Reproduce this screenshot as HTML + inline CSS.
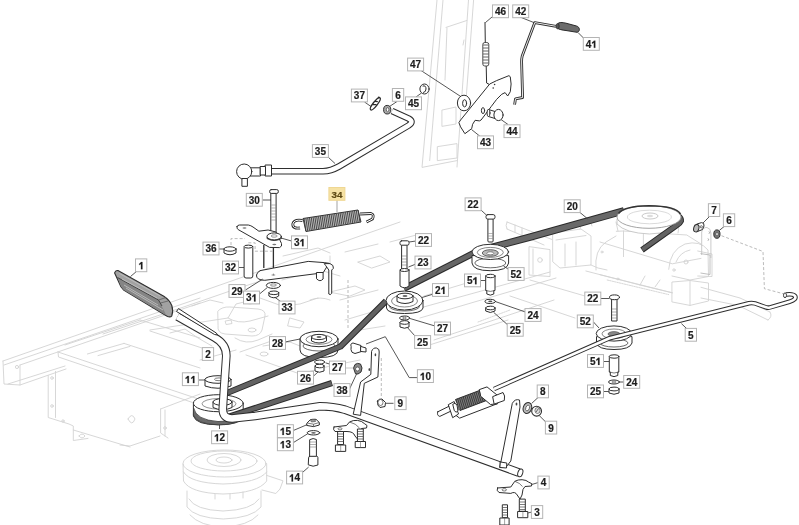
<!DOCTYPE html>
<html><head><meta charset="utf-8"><style>
html,body{margin:0;padding:0;background:#fff;}
svg{display:block;will-change:transform;filter:blur(0.4px);}
.lb{fill:#fff;stroke:#b4b4b4;stroke-width:1;}
.lt{font-family:"Liberation Sans",sans-serif;font-weight:bold;font-size:10px;fill:#1e1e1e;stroke:#1e1e1e;stroke-width:0.2;text-anchor:middle;}
.ht{font-family:"Liberation Sans",sans-serif;font-weight:bold;font-size:9.8px;fill:#5e4a14;stroke:#5e4a14;stroke-width:0.2;text-anchor:middle;}
.f{fill:none;stroke:#d2d2d2;stroke-width:0.9;stroke-linejoin:round;stroke-linecap:round;}
.fw{fill:#fff;stroke:#d2d2d2;stroke-width:0.9;stroke-linejoin:round;}
.p{fill:#fff;stroke:#2e2e2e;stroke-width:1;stroke-linejoin:round;stroke-linecap:round;}
.pn{fill:none;stroke:#2e2e2e;stroke-width:1;stroke-linejoin:round;stroke-linecap:round;}
.ld{fill:none;stroke:#444;stroke-width:0.9;}
.dash{fill:none;stroke:#aaa;stroke-width:0.8;stroke-dasharray:3 2;}
</style></head><body>
<svg width="799" height="525" viewBox="0 0 799 525">
<rect width="799" height="525" fill="#fff"/>
<g id="faint"><!-- ===== left frame ===== -->
<g class="f">
<path d="M3,361 L400,222"/>
<path d="M4,365 L200,298"/>
<path d="M20,365 L200,303"/>
<path d="M3,361 L4,384 L20,385 L66,369"/>
<path d="M8,384 L65,366"/>
<path d="M20,365 L20,385"/>
<circle cx="17" cy="367" r="1.6"/>
<path d="M58,352 L200,399.5"/>
<path d="M58,352 L58.5,357 L200,405"/>
<path d="M48.2,375.6 L48.2,417.5 L69,424 L73.3,426 L73.3,440.5 L88,438.4"/>
<path d="M55.5,371.4 L55.5,417.5"/>
<path d="M73.3,430 L130,447"/>
<circle cx="52" cy="378" r="1.3"/><circle cx="52" cy="406" r="1.3"/><circle cx="63" cy="421" r="1.2"/>
<path d="M79,436 q3,-4 6,0 q-3,4 -6,0"/>
<path d="M65,345 L140,320 M87.4,354 L124,343.4 M98,355.6 L130,346.4"/>
<path d="M140,320 L200,338 M124,343.4 L200,368"/>
<path d="M160.6,409 L160.6,433 L168,438 M165,410 L165,436"/>
<path d="M160.6,409 L200,394"/>
<path d="M128,419 q4,-7 7,0 q-3,8 -7,0"/>
<circle cx="165" cy="428" r="1.3"/>
<path d="M120,445 L130,446 L160,436"/>
<!-- deck plate outline center -->
<path d="M103,334 L172,311 L233,290 L300,268"/>
<path d="M150,330 L228,318 L236,304 L260,298 L282,306 L300,304 L318,298"/>
<path d="M228,318 Q238,324 250,321 L268,316"/>
<path d="M235,338 Q246,345 258,340 L272,334"/>
<path d="M200,360 L236,350 M240,352 L280,338"/>
<path d="M150,331 L205,349"/>
<path d="M246,355 L300,374"/>
<path d="M192,306 L210,300 L223,303"/>
<ellipse cx="252" cy="330" rx="4" ry="2"/>
<ellipse cx="250" cy="302" rx="4" ry="2"/>
<ellipse cx="264" cy="354" rx="4" ry="2"/>
<path d="M290,318 L304,322 L300,328 L288,326 Z"/>
<path d="M330,292 L355,286 L365,290 L350,296 Z"/>
<path d="M310,300 Q320,296 330,300"/>
<path d="M282,280 L320,270 L340,276"/>
<path d="M340,300 L378,290"/>
<path d="M345,320 L382,309"/>
<path d="M360,330 L385,326"/>
<path d="M300,374 L330,366"/>
<path d="M330,366 L360,360"/>
<path d="M283,256 L318,248 L330,253"/>
<path d="M345,252 L378,244"/>
<path d="M358,262 L380,256 L390,262 L372,268 Z"/>
<path d="M330,256 L330,270"/>
<path d="M390,242 L420,234"/>
<path d="M218,311 Q222,306.5 230,307 L258,309 Q266,310 265,316 L262,330 Q260,336 252,336 L225,334 Q217,333 218,326 Z"/>
<path d="M225.5,321 L231,320 L232,323.5 L226.5,324.5 Z"/>
<path d="M170,333 L185,329 L198,338 L212,346"/>
<path d="M263,346 L290,342 L305,348"/>
<!-- dotted vertical near lever -->
</g>
<path class="dash" d="M381.3,358 L381.3,398" stroke="#bbb" stroke-dasharray="2 2"/>
<path class="dash" d="M348,280 L348,330" stroke="#ccc" stroke-dasharray="2 2"/>
<!-- ===== vertical panel top ===== -->
<g class="f" stroke="#d0d0d0">
<path d="M437,0 L422,167.4 L457,160.6"/>
<path d="M443,0 L429.7,160.6"/>
<path d="M468.5,0 L457,167"/>
<path d="M473.6,0 L466,100"/>
<path d="M446,27.4 L466.8,20.5"/>
<path d="M447,28 L445,80"/>
<path d="M442.3,110 L456,107 L456,124 L442.3,126.3 Z"/>
<path d="M437.7,146.6 L457,143.6 L457,158 L437.7,160.6 Z"/>
<path d="M464,40 L463,45"/>
</g>
<!-- ===== right frame / transmission ===== -->
<g class="f" stroke="#c2c2c2">
<path d="M507,222 L552,239.5 M507,229 L544,245 M507,222 Q505,225.5 507,229"/>
<path d="M515,225 L515,232 M522,228 L522,235"/>
<path d="M529,247 L529,275 L550,276.5 L550,250 Z M533,249 L533,274"/>
<circle cx="540" cy="260" r="2.3"/>
<path d="M553,233 L581,229 L591,236 L591,265 L560,268 L553,262 Z M556,240 L586,235.5 M565,244 L565,266 M576,242 L576,265"/>
<path d="M580,229 L582,222 L590,220 L592,226"/>
<path d="M585.9,271 L640,285 L672.3,292.8"/>
<path d="M607.2,280 L668.7,294.6" stroke-dasharray="1.5 1"/>
<path d="M591,265 L598,268 L607,270"/>
<path d="M600,242 L672.3,263.8 L701,258.4"/>
<path d="M616.3,231.3 L623.5,231 L686.8,235 L701,244"/>
<path d="M623.5,231 L623.5,256.6 M643.4,233 L643.4,251"/>
<path d="M596,270 Q594,250 606,242 L616,236"/>
<path d="M600,274.7 L672.3,292.8"/>
<path d="M668.7,269.3 Q670,250 685,244 Q700,240 708,250 L708.5,276.5 L690,280 L672,276"/>
<path d="M676,262 Q680,252 690,250"/>
<circle cx="686" cy="262" r="2"/>
<circle cx="674" cy="270" r="1.2"/>
<path d="M672.3,282 L690,280.5 L708.5,283 L708.5,301 L690,305.4 L672.3,302 Z M690,280.5 L690,305.4"/>
<path d="M697.7,251 L712,254 L712,276.5 L697.7,276"/>
<path d="M701,287.3 L740,298 L770,312 M701,298 L738,305.4 L768,320 M770,312 Q773,316.5 768,320"/>
<path d="M616,222 L618,231 M679.6,222 L678,233"/>
<path d="M640,285 L645,276 M655,287 L660,280"/>
<circle cx="618" cy="279" r="1"/><circle cx="602" cy="252" r="1"/>
<path d="M530,280 L585,296 M510,296 L575,318"/>
<path d="M420,308 L550,272 M420,318 L556,278 M434,340 L554,300 M420,348 L508,320"/>
<path d="M478,322 L510,310" stroke-dasharray="1.5 1"/>
<path d="M424,296 L470,282"/>
</g>
<path d="M701.7,255 L701.7,232 Q703,227 707,227.5 Q710.9,228.5 710.9,233 L710.9,258" fill="none" stroke="#c4c4c4" stroke-width="0.9"/>
<path d="M709,231.5 q1.2,1 0,2.2 M708,238.5 q1.2,1 0,2.2" stroke="#888" stroke-width="0.8" fill="none"/>
<path d="M700.5,253.6 L710,255 L710,274.5 L700.5,273" fill="none" stroke="#b8b8b8" stroke-width="0.9"/>
<path class="dash" d="M721.5,235.7 L763,251.5 L764.4,288.7 L785.8,294.4" stroke="#b0b0b0" stroke-dasharray="4 2 1 2"/>
<!-- ===== clutch bottom ===== -->
<g class="f" stroke="#c8c8c8" transform="translate(0,2)">
<ellipse cx="224.5" cy="461.5" rx="41.5" ry="13.5"/>
<ellipse cx="224" cy="459" rx="33" ry="10"/>
<ellipse cx="224" cy="458" rx="17" ry="6.5"/>
<ellipse cx="224" cy="458" rx="8" ry="3"/>
<path d="M183,462 L183.5,479 Q190,491 223,492 Q258,491 266.7,479 L266.7,462"/>
<path d="M183.5,470 Q190,481 223,482 Q258,481 266.7,470"/>
<path d="M266.7,473.4 L283,478.8 L280,487 L275.8,491.5 L262,488"/>
<path d="M187,489 L187,505 Q195,516 223.3,517 Q252,516 261,505 L261,489"/>
<path d="M189,497 Q195,508 223,509 Q252,508 259,497"/>
<path d="M190,513 Q200,524 223,525 Q248,524 258,513"/>
<path d="M215,492 L215,497 M230,492 L230,497 M243,490 L243,496"/>
</g>
</g>
<g id="parts"><!-- ===== top: lever 42/41, spring 46, plate 43 ===== -->
<path class="ld" d="M492,17 L485.5,22.5"/>
<path d="M485,22.5 L485.3,42.5 M486.2,66 L486.6,83 L489.5,84.5" class="pn" stroke-width="0.9"/>
<rect x="482.8" y="42.5" width="6" height="23.5" rx="2" fill="#fff" stroke="#3a3a3a" stroke-width="0.9"/>
<path d="M483,45 h5.6 M483,48 h5.6 M483,51 h5.6 M483,54 h5.6 M483,57 h5.6 M483,60 h5.6 M483,63 h5.6" stroke="#555" stroke-width="0.9"/>
<path class="ld" d="M520,17 L534.5,22.8"/>
<path d="M556,26.3 L534.8,22.6 L522.2,56 Q521.5,59 521.6,62 L522.6,97.5 L515.5,98.8 L514.6,104.6" fill="none" stroke="#2e2e2e" stroke-width="2.8" stroke-linejoin="round"/>
<path d="M556,26.3 L534.8,22.6 L522.2,56 Q521.5,59 521.6,62 L522.6,97.5 L515.5,98.8 L514.6,104.6" fill="none" stroke="#fff" stroke-width="0.9" stroke-linejoin="round"/>
<path d="M557.5,24 C559,22 562,22.3 566,23.2 L576.5,26 C580,27 580.5,31.5 577,32.3 L566,30.5 C562,30 559,29.5 557.5,28.2 Z" fill="#6c6c6c" stroke="#2a2a2a" stroke-width="1"/>
<ellipse cx="557.6" cy="26.2" rx="1.6" ry="2.6" fill="#555" stroke="#2a2a2a" stroke-width="0.8"/>
<path class="ld" d="M578,32.5 L585.5,40"/>
<path class="ld" d="M421,70.5 L461.5,97"/>
<ellipse cx="464" cy="103" rx="6.6" ry="7.8" class="p"/>
<ellipse cx="464.6" cy="103.3" rx="2" ry="3.6" class="p"/>
<path class="p" d="M508.6,75.8 L496.6,80.6 L489.7,84 L460.6,120 L458.9,122.6 L460.6,126.9 L464.9,133.7 L471.7,128.6 L472.6,124.3 L475.1,120.3 L479.4,120.9 L481.1,120 L491.4,106.3 L496.6,99.4 L501.7,94.3 L505.1,92.6 L507.7,96 L510.3,91.7 L511.1,84 L510.3,77.1 Z"/>
<ellipse cx="483" cy="110.6" rx="1.6" ry="3" class="p"/>
<circle cx="494.6" cy="84.5" r="0.8" fill="#333"/><circle cx="493.2" cy="88" r="0.8" fill="#333"/>
<path class="p" d="M488.5,109.5 L495,111.5 L495,118.5 L488.5,116.5 Z"/>
<ellipse cx="488.5" cy="113" rx="1.5" ry="3.5" class="p"/>
<ellipse cx="498.5" cy="115" rx="4.6" ry="5.6" class="p"/>
<path class="ld" d="M508,124.5 L501,119.5"/>
<path class="ld" d="M481.5,137.5 L471.5,129.5"/>
<!-- cap 45, washer 6, clip 37 -->
<path class="ld" d="M416,97 L421.5,93"/>
<ellipse cx="424.5" cy="89" rx="4.6" ry="5" class="p"/>
<path d="M423,86 q3,-1 3,3 q0,3 -2.5,3.5" class="pn" stroke-width="0.8"/>
<path class="ld" d="M397,101.5 L389.5,106.5"/>
<ellipse cx="387.2" cy="109.7" rx="3.6" ry="4.3" fill="#a8a8a8" stroke="#2e2e2e" stroke-width="1"/>
<ellipse cx="387.6" cy="109.7" rx="1.3" ry="2" fill="#fff" stroke="#444" stroke-width="0.7"/>
<path class="ld" d="M364.5,102 L371,106.5"/>
<g transform="rotate(-52 375.3 103.8)"><ellipse cx="375.3" cy="103.8" rx="7.6" ry="2.1" fill="#fff" stroke="#2a2a2a" stroke-width="1.3"/>
<path d="M373,102.2 L375.5,105.3 M377,102 L378.5,104.5" stroke="#2a2a2a" stroke-width="1.2"/></g>
<circle cx="378.8" cy="97.6" r="1" fill="#2a2a2a"/>
<!-- rod 35 -->
<path id="r35" d="M271,171.3 L323,171.3 Q331,171 339,166.5 L408.5,125.5 Q414.5,121.5 408.5,118.5 L392,111" fill="none" stroke="#2e2e2e" stroke-width="6.6" stroke-linejoin="round"/>
<path d="M271,171.3 L323,171.3 Q331,171 339,166.5 L408.5,125.5 Q414.5,121.5 408.5,118.5 L392,111" fill="none" stroke="#fff" stroke-width="4.5" stroke-linejoin="round"/>
<path class="ld" d="M328,157 L335,163.5"/>
<rect x="265.5" y="165" width="6" height="11" class="p"/>
<path class="p" d="M250.5,167.8 L260.5,167.8 L260.5,176 L250.5,176 Z"/>
<rect x="260.5" y="166.5" width="5" height="8.5" class="p"/>
<circle cx="244.2" cy="171.6" r="7.6" class="p"/>
<path class="p" d="M242.3,178.5 L247.4,178.5 L247.4,186.3 L242.3,186.3 Z"/>
<!-- bolt 30 + upper bracket -->
<path class="ld" d="M262.5,200 L271,200"/>
<path d="M263.8,245 L263.8,268 M273.4,247 L273.4,268" stroke="#2e2e2e" stroke-width="1.3" fill="none"/>
<path class="dash" d="M248.3,242.8 L255.1,242.8 L255.1,251.2 L272.6,251.2" stroke="#aaa" stroke-dasharray="2 1.5"/>
<rect x="271.2" y="193" width="4.9" height="40" class="p"/>
<path d="M271.2,205 h4.9 M271.2,208 h4.9 M271.2,211 h4.9 M271.2,214 h4.9 M271.2,217 h4.9 M271.2,220 h4.9" stroke="#888" stroke-width="0.6"/>
<rect x="269.7" y="189.6" width="8.6" height="3.8" rx="1.5" class="p"/>
<path class="p" d="M237,226.5 Q237.5,225 239.5,225 L248.3,225 Q251,225.5 253,227 L258.9,231.2 L268.1,230 L276,232 L281.5,243.5 Q282.5,246.5 279.5,247.6 L269.6,247.4 L238.2,229.6 Q236.5,228.5 237,226.5 Z"/>
<ellipse cx="244.5" cy="228" rx="2" ry="0.8" fill="#777"/>
<ellipse cx="274.3" cy="244.5" rx="2" ry="0.8" fill="#777"/>
<path class="ld" d="M291.5,241 L281,238"/>
<path d="M267,237 L267,238.6 Q274.2,242.5 281.4,238.6 L281.4,237 Z" fill="#555" stroke="#2e2e2e" stroke-width="0.8"/>
<ellipse cx="274.2" cy="236.4" rx="7.2" ry="3.5" class="p"/>
<ellipse cx="274.2" cy="236" rx="3" ry="1.3" fill="#eee" stroke="#666" stroke-width="0.6"/>
<!-- cap 36, pin 32 -->
<path class="dash" d="M231,245 L231,238.6 L245,238.6" stroke="#aaa" stroke-dasharray="2 1.5"/>
<path class="ld" d="M219,249 L225,249"/>
<path class="p" d="M224,249 L224,253 Q230,256.5 236,253 L236,249 Z"/>
<ellipse cx="230" cy="249" rx="6" ry="2.2" class="p"/>
<path class="ld" d="M238.5,267.5 L244,267.5"/>
<rect x="244.1" y="245.5" width="8.7" height="32.5" rx="2" class="p"/>
<ellipse cx="248.45" cy="246.6" rx="4.35" ry="1.5" class="p"/>
<!-- lower bracket 29 -->
<path class="p" d="M260.3,270.6 L308.2,261.4 L324.2,262.6 L329,263.3 L323.1,272.8 L264.8,280.3 Q256,280 256.5,275 Q257,272 260.3,270.6 Z"/>
<path class="p" d="M324.6,263.6 L330,263.6 Q334,265 333.4,268.3 L331.7,270 L331.7,293.4 Q330.3,295.5 328.8,294 L328.8,270 L326,266 Z"/>
<path class="p" d="M316.8,272.5 L323.1,272.5 L323.1,279 Q320,282.5 316.8,279 Z"/>
<path d="M273.4,273.6 L273.4,275.5 M271.6,275 L275.2,275" stroke="#666" stroke-width="0.7"/>
<path class="ld" d="M245.5,290 L262.6,279.1"/>
<path class="ld" d="M259.5,294 L267.1,287.7"/>
<ellipse cx="273.4" cy="285.4" rx="7.1" ry="3" class="p"/>
<ellipse cx="273.4" cy="285" rx="3" ry="1.2" fill="#eee" stroke="#555" stroke-width="0.6"/>
<path class="p" d="M268.9,292.8 L268.9,296 Q273.8,299.5 278.7,296 L278.7,292.8 Z"/>
<ellipse cx="273.8" cy="292.8" rx="4.9" ry="1.8" class="p"/>
<path class="ld" d="M282,302.5 L275,297.4"/>
<!-- spring 34 -->
<path d="M337,200 L337,212" stroke="#999" stroke-width="0.9"/>
<path d="M303,218.5 L358,210 L361,222 L306,231.5 Z" fill="#c4c4c4" stroke="#333" stroke-width="1"/>
<path d="M304.10,218.60 L305.90,231.20 M305.90,218.32 L307.70,230.89 M307.70,218.04 L309.50,230.57 M309.50,217.76 L311.30,230.26 M311.30,217.48 L313.10,229.95 M313.10,217.20 L314.90,229.63 M314.90,216.92 L316.70,229.32 M316.70,216.64 L318.50,229.01 M318.50,216.36 L320.30,228.69 M320.30,216.08 L322.10,228.38 M322.10,215.80 L323.90,228.07 M323.90,215.52 L325.70,227.75 M325.70,215.24 L327.50,227.44 M327.50,214.96 L329.30,227.13 M329.30,214.68 L331.10,226.81 M331.10,214.40 L332.90,226.50 M332.90,214.12 L334.70,226.19 M334.70,213.84 L336.50,225.87 M336.50,213.56 L338.30,225.56 M338.30,213.28 L340.10,225.25 M340.10,213.00 L341.90,224.93 M341.90,212.72 L343.70,224.62 M343.70,212.44 L345.50,224.31 M345.50,212.16 L347.30,223.99 M347.30,211.88 L349.10,223.68 M349.10,211.60 L350.90,223.37 M350.90,211.32 L352.70,223.05 M352.70,211.04 L354.50,222.74 M354.50,210.76 L356.30,222.43 M356.30,210.48 L358.10,222.11 M358.10,210.20 L359.90,221.80" stroke="#3a3a3a" stroke-width="0.9" fill="none"/>
<path d="M302.5,220.5 Q294,219 292.8,224 Q292.5,229 300,228" fill="none" stroke="#2e2e2e" stroke-width="2.8"/>
<path d="M302.5,220.5 Q294,219 292.8,224 Q292.5,229 300,228" fill="none" stroke="#fff" stroke-width="1"/>
<path d="M360,214 L371,213.5 Q374.5,214.5 372.5,219 L366.5,222" fill="none" stroke="#2e2e2e" stroke-width="2.8"/>
<path d="M360,214 L371,213.5 Q374.5,214.5 372.5,219 L366.5,222" fill="none" stroke="#fff" stroke-width="1"/>
<!-- pedal 1 -->
<path class="ld" d="M137,271 L130.5,276.5"/>
<path d="M114.6,272.9 Q115.5,270 118,270.6 L163.8,296.3 Q169.5,300 171.8,305.5 Q173.5,311 171.8,315.8 Q170.5,317.5 167.5,316.5 L123.7,290 L120.9,286.6 Z" fill="#a2a2a2" stroke="#2e2e2e" stroke-width="1.1"/>
<path d="M117.5,277.5 L158.5,300 L166.5,315.5 L123.7,290 L120.9,286.6 Z" fill="#858585"/>
<path d="M117.5,277.5 L158.5,300 L162,306" stroke="#3a3a3a" stroke-width="0.9" fill="none"/>
<path d="M119.5,273.5 L160,295.8 M122,279 L157,298 M124,285 L158,305 M126,288 L163,310" stroke="#c4c4c4" stroke-width="0.8" fill="none"/>
<path d="M158.5,300 L166,297.5 M160.5,303 L168,301" stroke="#555" stroke-width="0.7" fill="none"/>
<!-- ===== pulley 28 ===== -->
<path class="ld" d="M285,342 L300,339"/>
<path class="p" d="M300,339 L300,350 Q300,357.5 319,357.5 Q338,357.5 338,350 L338,339 Z"/>
<ellipse cx="319" cy="346" rx="16" ry="5" fill="none" stroke="#444" stroke-width="0.8"/>
<ellipse cx="319" cy="339" rx="19" ry="7.7" class="p"/>
<ellipse cx="319" cy="339.5" rx="13" ry="4.8" fill="none" stroke="#555" stroke-width="0.7"/>
<path class="p" d="M311.5,337 L311.5,341 Q319,345 326.5,341 L326.5,337 Z"/>
<ellipse cx="319" cy="337" rx="7.5" ry="2.6" class="p"/>
<ellipse cx="319" cy="337" rx="2.5" ry="1" fill="#666"/>
<!-- pulley 12 -->
<path class="ld" d="M219.5,429 L219.5,423.5"/>
<path d="M193.4,403.2 L193.4,416 Q196,424.8 218.3,424.8 Q240,424.8 243.2,416 L243.2,403.2 Z" fill="#fff" stroke="#2e2e2e" stroke-width="1"/>
<path d="M193.6,408 Q196,420 218,421.5 Q232,421.5 240,417 L240,421 Q232,425 218,424.8 Q196,424 193.4,415 Z" fill="#6a6a6a" stroke="#3a3a3a" stroke-width="0.8"/>
<ellipse cx="218.3" cy="403.2" rx="24.9" ry="8.5" class="p"/>
<ellipse cx="219" cy="403.8" rx="17" ry="5.3" fill="none" stroke="#666" stroke-width="0.7"/>
<path class="p" d="M213,402 L213,407.5 Q222.5,412 232,407.5 L232,402 Z"/>
<ellipse cx="222.5" cy="402" rx="9.5" ry="3.4" class="p"/>
<ellipse cx="222.5" cy="402" rx="3" ry="1.2" fill="#555"/>
<!-- bushing 11 -->
<path class="ld" d="M198.5,380 L205,380"/>
<path class="p" d="M205,379.5 L205,386 Q218,390.5 231,386 L231,379.5 Z"/>
<ellipse cx="218" cy="379.5" rx="13" ry="3.8" class="p"/>
<ellipse cx="219" cy="379.3" rx="4.5" ry="1.4" fill="none" stroke="#444" stroke-width="0.7"/>
<!-- ===== belts ===== -->
<g fill="none" stroke-linejoin="round">
<path id="b1" d="M227,393 L340.5,346.5 L386,301" stroke="#2a2a2a" stroke-width="6.2"/>
<path d="M227,393 L340.5,346.5 L386,301" stroke="#626262" stroke-width="4.2"/>
<path d="M404,288.5 L474,253" stroke="#2a2a2a" stroke-width="6.5"/>
<path d="M404,288.5 L474,253" stroke="#666" stroke-width="4.5"/>
<path d="M490,247.8 L530,237.2 L624,210.8" stroke="#2a2a2a" stroke-width="7.4"/>
<path d="M490,247.8 L530,237.2 L624,210.8" stroke="#686868" stroke-width="5.4"/>
<path d="M229.5,416.5 L332,383" stroke="#2a2a2a" stroke-width="6.2" stroke-linecap="butt"/>
<path d="M229.5,416.5 L331.5,383.2" stroke="#626262" stroke-width="4.2" stroke-linecap="butt"/>
</g>
<!-- pedal arm 2 + cross rod -->
<path id="arm" d="M177.5,316.5 L214.5,337.5 Q226.5,344 226.3,356 L224.1,388 L222.8,408.6 Q222.5,418.5 232,418.5 L255,416 L290,410.7 L320,406.3 Q333,406.3 345,409.7 L519,472.6" fill="none" stroke="#2e2e2e" stroke-width="8.6" stroke-linejoin="round"/>
<path d="M177.5,316.5 L214.5,337.5 Q226.5,344 226.3,356 L224.1,388 L222.8,408.6 Q222.5,418.5 232,418.5 L255,416 L290,410.7 L320,406.3 Q333,406.3 345,409.7 L519,472.6" fill="none" stroke="#fff" stroke-width="6.6" stroke-linejoin="round"/>
<ellipse cx="520.3" cy="472.9" rx="2.4" ry="4" transform="rotate(18 520.3 472.9)" fill="#fff" stroke="#2e2e2e" stroke-width="1"/>
<path d="M176.5,311.5 L178.5,308.6 L216.4,333.1 L217.5,335 L214.5,334.5 Z" fill="#fff" stroke="#2e2e2e" stroke-width="1" stroke-linejoin="round"/>

<!-- ===== pulley 21 / bolt 22 / spacer 23 ===== -->
<path class="ld" d="M416,241 L409,242"/>
<path class="ld" d="M416,264 L408.5,267"/>
<rect x="402" y="244" width="5" height="26" class="p"/>
<path d="M402,256 h5 M402,259 h5 M402,262 h5 M402,265 h5" stroke="#777" stroke-width="0.6"/>
<rect x="400" y="240.8" width="9" height="4.4" rx="1.6" class="p"/>
<path class="p" d="M400,270 L400,286 Q404.5,289.5 409,286 L409,270 Z"/>
<ellipse cx="404.5" cy="270" rx="4.5" ry="1.5" class="p"/>
<path class="p" d="M386.5,301 L386.5,308 Q387,313.5 404.5,313.5 Q422,313.5 423,308 L423,301 Z"/>
<ellipse cx="404.5" cy="306.5" rx="15" ry="4.5" fill="none" stroke="#444" stroke-width="0.8"/>
<ellipse cx="404.5" cy="300.5" rx="18.5" ry="9.5" class="p"/>
<ellipse cx="404.5" cy="301" rx="13" ry="6" fill="none" stroke="#555" stroke-width="0.7"/>
<path class="p" d="M397,296 L397,301.5 Q405,305.5 413,301.5 L413,296 Z"/>
<ellipse cx="405" cy="296" rx="8" ry="2.8" class="p"/>
<ellipse cx="405" cy="296" rx="2.5" ry="1" fill="#666"/>
<path class="ld" d="M433.5,294 L422,297.5"/>
<ellipse cx="404.5" cy="318" rx="5" ry="2" class="p"/>
<ellipse cx="404.5" cy="318" rx="2" ry="0.8" fill="#fff" stroke="#444" stroke-width="0.6"/>
<path class="p" d="M400,322.5 L400,327 Q404.5,329.5 409,327 L409,322.5 Z"/>
<ellipse cx="404.5" cy="322.5" rx="4.5" ry="1.8" class="p"/>
<path class="ld" d="M435,326 L410,318.5"/>
<path class="ld" d="M417.3,338.6 L407.4,327.5"/>
<!-- ===== pulley 52 upper ===== -->
<path class="ld" d="M480.3,209.4 L487.1,215.7"/>
<rect x="487.9" y="218.5" width="5.2" height="23.5" rx="1" class="p"/>
<path d="M487.9,233.5 h5.2 M487.9,236 h5.2 M487.9,238.5 h5.2" stroke="#888" stroke-width="0.6"/>
<rect x="486" y="214.6" width="9" height="4.5" rx="1.8" class="p"/>
<path class="p" d="M472,256 L472,263 Q473,270.7 490.3,270.7 Q507.6,270.7 508.6,263 L508.6,256 Z"/>
<ellipse cx="490.3" cy="263" rx="15.5" ry="4.8" fill="none" stroke="#444" stroke-width="0.8"/>
<ellipse cx="490.3" cy="251.9" rx="18.3" ry="7.6" class="p"/>
<ellipse cx="490.3" cy="252.4" rx="13" ry="5" fill="none" stroke="#555" stroke-width="0.7"/>
<ellipse cx="490.3" cy="253" rx="8" ry="3.3" fill="#bbb" stroke="#444" stroke-width="0.8"/>
<ellipse cx="490.3" cy="253.3" rx="3.5" ry="1.5" fill="#fff" stroke="#444" stroke-width="0.6"/>
<path class="ld" d="M508,269 L503.5,266"/>
<path class="ld" d="M480.7,280.5 L485.7,280.5"/>
<path class="p" d="M485.7,276 L485.7,290.5 L486.8,290.5 L486.8,294 Q490.3,296.3 493.8,294 L493.8,290.5 L495,290.5 L495,276 Z"/>
<path d="M485.7,290.5 Q490.3,292.3 495,290.5" fill="none" stroke="#444" stroke-width="0.7"/>
<ellipse cx="490.35" cy="276" rx="4.65" ry="1.7" class="p"/>
<ellipse cx="490.3" cy="301.4" rx="5.3" ry="2.1" class="p"/>
<ellipse cx="490.3" cy="301.4" rx="2.1" ry="0.8" fill="#555"/>
<path class="p" d="M485.7,308 L485.7,311 Q490.3,314 495,311 L495,308 Z"/>
<ellipse cx="490.35" cy="308" rx="4.65" ry="1.8" class="p"/>
<path class="ld" d="M525.7,312.1 L495.5,301.6"/>
<path class="ld" d="M508.6,325.7 L493.6,312.3"/>
<!-- ===== transmission pulley top (faint-ish) + belt ===== -->
<path class="ld" d="M578.8,211.5 L587.6,218.8"/>
<path d="M617,219 L617,224 Q625,233 649.4,234 Q672,233 681.5,224 L681.5,219" fill="#fff" stroke="#c4c4c4" stroke-width="0.9"/>
<g fill="none" stroke-linejoin="round">
<path d="M677,215 Q681.5,218 681,221 Q680,223.5 677,225 L642,250" stroke="#2a2a2a" stroke-width="6" stroke-linecap="butt"/>
<path d="M677,215 Q681.5,218 681,221 Q680,223.5 677,225 L642.3,249.7" stroke="#626262" stroke-width="4" stroke-linecap="butt"/>
</g>
<ellipse cx="649" cy="217" rx="32" ry="11.3" fill="#fff" stroke="#9a9a9a" stroke-width="0.9"/>
<path d="M618.5,213.5 Q624,206 649,205.7 Q676,206 680.5,214" fill="none" stroke="#333" stroke-width="1.6"/>
<ellipse cx="649.4" cy="217" rx="22" ry="6.8" fill="none" stroke="#d0d0d0" stroke-width="0.8"/>
<ellipse cx="650" cy="216" rx="8" ry="3" fill="none" stroke="#bbb" stroke-width="0.8"/>
<ellipse cx="650" cy="216" rx="3" ry="1.2" fill="#ddd"/>
<!-- part 7 and 6 right -->
<path class="ld" d="M709.5,216.5 L702.5,223.5"/>
<path d="M696.5,224.2 L701.5,222.6 Q704.5,222.5 704,226 L702.5,229.5 L697.5,231.5 Z" fill="#fff" stroke="#2e2e2e" stroke-width="1"/>
<ellipse cx="696.3" cy="228.2" rx="2.6" ry="3.8" transform="rotate(15 696.3 228.2)" fill="#bbb" stroke="#2e2e2e" stroke-width="1"/>
<circle cx="701.3" cy="226.8" r="1.1" fill="#fff" stroke="#333" stroke-width="0.7"/>
<path class="ld" d="M726.3,224.7 L719.4,230.4"/>
<ellipse cx="716.9" cy="234.1" rx="3.1" ry="4.2" fill="#777" stroke="#2e2e2e" stroke-width="1"/>
<ellipse cx="717" cy="234.1" rx="1.2" ry="1.7" fill="#eee" stroke="#444" stroke-width="0.6"/>
<!-- pulley 52 lower -->
<path class="ld" d="M593.5,322 L599,328"/>
<path class="p" d="M596.5,337 L596.5,343 Q598,349.5 614,349.5 Q630,349.5 632,343 L632,337 Z"/>
<ellipse cx="614" cy="343" rx="14" ry="4" fill="none" stroke="#444" stroke-width="0.8"/>
<ellipse cx="614" cy="333.5" rx="17.8" ry="7.6" class="p"/>
<ellipse cx="614" cy="333.8" rx="12" ry="4.8" fill="none" stroke="#555" stroke-width="0.7"/>
<ellipse cx="614" cy="334" rx="6" ry="2.4" fill="#888" stroke="#444" stroke-width="0.6"/>
<!-- ===== rod 5 ===== -->
<path id="rod5" d="M494,389 L609.5,338.2 L749,303.2 Q752,302.6 755,303.4 L766,307.3 Q768,308 770,307.4 L789.5,301.8 Q797,299.5 795,296 Q793,293.5 786,294.5" fill="none" stroke="#2e2e2e" stroke-width="4.6" stroke-linejoin="round"/>
<path d="M494,389 L609.5,338.2 L749,303.2 Q752,302.6 755,303.4 L766,307.3 Q768,308 770,307.4 L789.5,301.8 Q797,299.5 795,296 Q793,293.5 786,294.5" fill="none" stroke="#fff" stroke-width="2.6" stroke-linejoin="round"/>
<ellipse cx="785" cy="295.3" rx="1.5" ry="2.4" fill="#fff" stroke="#2e2e2e" stroke-width="0.9"/>
<path class="ld" d="M601,298.5 L609.5,298.5"/>
<rect x="612" y="299" width="5" height="22" class="p"/>
<path d="M612,309 h5 M612,312 h5 M612,315 h5 M612,318 h5" stroke="#777" stroke-width="0.6"/>
<ellipse cx="614.5" cy="297.3" rx="5" ry="2.4" class="p"/>
<path class="ld" d="M688.9,330.7 L681.4,323.6"/>
<path class="ld" d="M602,361.5 L609.5,361.5"/>
<path class="p" d="M609.3,356.5 L609.3,372 L610.3,372 L610.3,375.5 Q614,377.8 617.8,375.5 L617.8,372 L618.8,372 L618.8,356.5 Z"/>
<path d="M609.3,372 Q614,374 618.8,372" fill="none" stroke="#444" stroke-width="0.7"/>
<ellipse cx="614.05" cy="356.5" rx="4.75" ry="1.7" class="p"/>
<ellipse cx="614" cy="382" rx="5.5" ry="2" class="p"/>
<ellipse cx="614" cy="382" rx="2.2" ry="0.8" fill="#fff" stroke="#444" stroke-width="0.6"/>
<path class="ld" d="M625.5,382 L619.5,382"/>
<path class="p" d="M609,389 L609,393 Q614,395.5 619,393 L619,389 Z"/>
<ellipse cx="614" cy="389" rx="5" ry="1.9" class="p"/>
<path class="ld" d="M602,391.5 L609,391.5"/>
<!-- spring assembly 5 -->
<path class="p" d="M437.8,411.8 L450.5,405.5 L452.6,410.3 L439.8,416.4 Q436.5,415.5 437.8,411.8 Z"/>
<path class="p" d="M452,412 L485,397 L497,403.8 L460,418 Z"/>
<path class="p" d="M448.6,404.5 L454.2,401.5 L458.5,414 L453,417.5 Z"/>
<path d="M455.5,399.5 L486,388 L490.5,399 L460,410.5 Z" fill="#3c3c3c" stroke="#222" stroke-width="0.9"/>
<path d="M457.00,399.50 L460.00,410.00 M458.81,398.81 L461.84,409.30 M460.62,398.12 L463.69,408.60 M462.44,397.44 L465.53,407.90 M464.25,396.75 L467.38,407.20 M466.06,396.06 L469.22,406.50 M467.88,395.38 L471.06,405.80 M469.69,394.69 L472.91,405.10 M471.50,394.00 L474.75,404.40 M473.31,393.31 L476.59,403.70 M475.12,392.62 L478.44,403.00 M476.94,391.94 L480.28,402.30 M478.75,391.25 L482.12,401.60 M480.56,390.56 L483.97,400.90 M482.38,389.88 L485.81,400.20 M484.19,389.19 L487.66,399.50 M486.00,388.50 L489.50,398.80" stroke="#9a9a9a" stroke-width="0.7" fill="none"/>
<path class="p" d="M479.6,389.5 L487,386.9 L497.6,395.5 L497.6,403.8 L490.5,404.5 L481,396.5 Z"/>
<path class="p" d="M493,396.5 L503,392.5 Q505.5,395.5 504.3,400.5 L494.5,404 Z"/>
<path class="p" d="M453,404 Q455,402 457,405 L458,411 Q456,413.5 454.5,411 Z"/>
<!-- lever 10 (vertical flat bar) + pin 10 -->
<path class="ld" d="M417.3,377.6 L409.2,377.6 L385.3,336.7 L366,344"/>
<path class="p" d="M351,346 Q350,343.5 353,343 L361,345.5 L361.5,351.5 L355,353.5 Q351,353 351,350 Z"/>
<path class="p" d="M361,346.5 L366,348 L366,352 L361,351.5 Z"/>
<path class="p" d="M371.7,351 Q373,347.5 376.5,348 Q379.8,349 379.2,352 L377.9,377 L364.3,383.3 L360.6,415.4 L353.2,414.2 L360.6,382 L370.5,374.6 Z"/>
<ellipse cx="375.4" cy="354.8" rx="0.8" ry="1.5" fill="#444"/>
<ellipse cx="369.3" cy="369.6" rx="0.8" ry="1.5" fill="#444"/>
<path class="ld" d="M349.5,389 L357,373"/>
<path d="M353.5,368 L355,364.5 L357.5,363.4 L360.5,364 L362,368 L361,372 L358,374 L355.5,373.8 Z" fill="#8a8a8a" stroke="#2e2e2e" stroke-width="1"/>
<circle cx="357.5" cy="369" r="2" fill="#fff" stroke="#444" stroke-width="0.7"/>
<path d="M345.7,368 L353.5,368" stroke="#bbb" stroke-width="0.8"/>
<path class="ld" d="M329.4,364 L325.5,362.8"/>
<path class="ld" d="M312.5,377 L318,372"/>
<path class="p" d="M315,366 L315,371 Q319.5,373.5 324,371 L324,366 Z"/>
<ellipse cx="319.5" cy="366" rx="4.5" ry="1.8" class="p"/>
<ellipse cx="319.5" cy="362" rx="5" ry="2" class="p"/>
<!-- nut 9 left -->
<path class="ld" d="M393.5,403.3 L386,403.3"/>
<path class="p" d="M377.5,401 Q378.5,398.5 382,399 L385.5,402.5 L385,406.5 L380,407.5 Q377,406 377.5,401 Z"/>
<ellipse cx="380.5" cy="402.5" rx="2.5" ry="3" fill="#fff" stroke="#444" stroke-width="0.7"/>
<!-- bracket 4 middle + bolts 3 -->
<path class="p" d="M334,427 L346.5,425.5 L349.5,422 Q353,420 357.5,420.4 Q362,421 364.3,423.5 L367,425.5 L366.5,428 L361.5,428.5 Q359.5,430 359.5,436 L357.5,439 L355,436 Q353.5,431.5 347,431.5 L335,431.5 Q332.5,429.5 334,427 Z"/>
<ellipse cx="340" cy="428.8" rx="2" ry="1.1" fill="#fff" stroke="#444" stroke-width="0.7"/>
<path d="M349.5,422 Q356,423.5 359.5,428" fill="none" stroke="#444" stroke-width="0.7"/>
<path class="p" d="M338,431.5 L343.5,431.5 L343.5,444.5 L338,444.5 Z"/>
<path d="M338,434 h5.5 M338,436.5 h5.5 M338,439 h5.5 M338,441.5 h5.5" stroke="#444" stroke-width="0.7"/>
<path class="p" d="M335.8,445 L345.7,445 L345.7,451.4 L335.8,451.4 Z"/>
<path d="M340.7,445 L340.7,451.4" stroke="#666" stroke-width="0.6"/>
<path class="p" d="M357.8,429 L363.3,429 L363.3,441.5 L357.8,441.5 Z"/>
<path d="M357.8,431.5 h5.5 M357.8,434 h5.5 M357.8,436.5 h5.5 M357.8,439 h5.5" stroke="#444" stroke-width="0.7"/>
<path class="p" d="M355.6,441.5 L365.5,441.5 L365.5,447.6 L355.6,447.6 Z"/>
<path d="M360.5,441.5 L360.5,447.6" stroke="#666" stroke-width="0.6"/>
<!-- nut 15, washer 13, bolt 14 -->
<path class="ld" d="M292.9,430.7 L307.9,424.3"/>
<path class="p" d="M307.1,423 L310.5,419.5 L316,419.3 L319.3,422.5 L319.3,425 L313.5,426.6 L307.1,425.5 Z"/>
<path d="M307.1,423 L313.5,424.2 L319.3,422.5 M313.5,424.2 L313.5,426.6" fill="none" stroke="#444" stroke-width="0.7"/>
<path d="M310.5,420.5 L312,419.3 L315,419.3 L315.5,421.5 L311.5,422 Z" fill="#999" stroke="#444" stroke-width="0.6"/>
<path class="ld" d="M292.9,442.9 L307.9,433.6"/>
<ellipse cx="313.5" cy="432.8" rx="6.3" ry="2.2" class="p"/>
<ellipse cx="313.5" cy="432.8" rx="2.3" ry="0.9" fill="#666"/>
<path class="ld" d="M302.9,472.1 L308.6,467.1"/>
<path class="p" d="M310,439.5 Q313.2,437.5 316.4,439.5 L316.4,457 L310,457 Z"/>
<path d="M310,442 h6.4 M310,444.5 h6.4 M310,447 h6.4" stroke="#777" stroke-width="0.6"/>
<path class="p" d="M308.6,457.5 Q308.6,456.3 310,456.3 L316.5,456.3 Q317.9,456.3 317.9,457.5 L317.9,465 Q313.2,467.5 308.6,465 Z"/>
<!-- lever (arm) near 8/9 and bracket 4 right -->
<path class="p" d="M512.5,403 Q515,398.5 519.5,400 L520,407 L510.8,461 L506.5,466.5 L500.2,467.5 Z"/>
<path class="p" d="M500.5,462 L506.8,463 L506.5,468 L500.2,467.5 Z"/>
<ellipse cx="516.5" cy="404" rx="0.9" ry="1.5" fill="#444"/>
<path class="ld" d="M540.3,395.4 L531.7,403.4"/>
<ellipse cx="527.4" cy="408" rx="4.2" ry="5.6" transform="rotate(20 527.4 408)" fill="#bbb" stroke="#2e2e2e" stroke-width="1"/>
<ellipse cx="527.6" cy="408" rx="1.8" ry="3" transform="rotate(20 527.6 408)" fill="#fff" stroke="#444" stroke-width="0.7"/>
<circle cx="536.6" cy="411.2" r="4.9" fill="#fff" stroke="#2e2e2e" stroke-width="1.1"/>
<ellipse cx="537.5" cy="410.5" rx="2.6" ry="3" fill="#ddd" stroke="#555" stroke-width="0.7"/>
<path d="M536,412 L538.5,408.5" stroke="#444" stroke-width="0.8"/>
<path class="ld" d="M547.7,424 L539.1,415.4"/>
<path class="p" d="M497.5,488 L510.8,487 L514.8,481.3 Q518,479.5 522.1,479.7 Q526.5,480 528.6,482.1 L531.8,483.7 L531.5,486 L525,486.5 Q522.5,488 522,495 L520,499.1 L517.2,495 Q515,491 510.8,493.4 L499,492.5 Q496,490.5 497.5,488 Z"/>
<ellipse cx="504.3" cy="489.8" rx="2.2" ry="1.2" fill="#fff" stroke="#444" stroke-width="0.7"/>
<path d="M514.8,481.3 Q520,483 522.5,486.5" fill="none" stroke="#444" stroke-width="0.7"/>
<path class="ld" d="M538.3,482.5 L531.8,484.5"/>
<path class="p" d="M502.7,504.8 L507.5,504.8 L507.5,517.7 L502.7,517.7 Z"/>
<path d="M502.7,507.5 h4.8 M502.7,510 h4.8 M502.7,512.5 h4.8 M502.7,515 h4.8" stroke="#444" stroke-width="0.7"/>
<path class="p" d="M500.2,518 L509.1,518 L509.1,525 L500.2,525 Z"/>
<path d="M504.6,518 L504.6,525" stroke="#666" stroke-width="0.6"/>
<path class="p" d="M519.7,499.1 L525.3,499.1 L525.3,511.3 L519.7,511.3 Z"/>
<path d="M519.7,502 h5.6 M519.7,504.5 h5.6 M519.7,507 h5.6 M519.7,509.5 h5.6" stroke="#444" stroke-width="0.7"/>
<path class="p" d="M518,511.5 L527.8,511.5 L527.8,517.7 L518,517.7 Z"/>
<path d="M522.9,511.5 L522.9,517.7" stroke="#666" stroke-width="0.6"/>
<path class="ld" d="M531.8,512 L527.8,513"/>
</g>
<g id="labels"><rect x="492.5" y="4.9" width="16" height="12.8" class="lb"/><text x="497.72" y="15.20" class="lt">4</text><text x="503.28" y="15.20" class="lt">6</text><rect x="512.7" y="4.9" width="16" height="12.8" class="lb"/><text x="517.92" y="15.20" class="lt">4</text><text x="523.48" y="15.20" class="lt">2</text><rect x="583.3" y="37.5" width="16" height="12.8" class="lb"/><text x="588.52" y="47.80" class="lt">4</text><path d="M2.55,-7.16 L4.0,-7.16 L4.0,0 L2.55,0 L2.55,-5.15 Q1.75,-4.45 0.75,-4.15 L0.75,-5.45 Q2.0,-5.95 2.55,-7.16 Z" transform="translate(591.30,47.80)" fill="#1e1e1e" stroke="#1e1e1e" stroke-width="0.2"/><rect x="407.6" y="58.1" width="16" height="12.8" class="lb"/><text x="412.82" y="68.40" class="lt">4</text><text x="418.38" y="68.40" class="lt">7</text><rect x="405.5" y="96.9" width="16" height="12.8" class="lb"/><text x="410.72" y="107.20" class="lt">4</text><text x="416.28" y="107.20" class="lt">5</text><rect x="392.4" y="88.5" width="11.3" height="12.8" class="lb"/><text x="398.00" y="98.80" class="lt">6</text><rect x="351.4" y="89.1" width="16" height="12.8" class="lb"/><text x="356.62" y="99.40" class="lt">3</text><text x="362.18" y="99.40" class="lt">7</text><rect x="504.0" y="124.8" width="16" height="12.8" class="lb"/><text x="509.22" y="135.10" class="lt">4</text><text x="514.78" y="135.10" class="lt">4</text><rect x="477.5" y="135.9" width="16" height="12.8" class="lb"/><text x="482.72" y="146.20" class="lt">4</text><text x="488.28" y="146.20" class="lt">3</text><rect x="312.4" y="144.6" width="16" height="12.8" class="lb"/><text x="317.62" y="154.90" class="lt">3</text><text x="323.18" y="154.90" class="lt">5</text><rect x="246.3" y="193.4" width="16" height="12.8" class="lb"/><text x="251.52" y="203.70" class="lt">3</text><text x="257.08" y="203.70" class="lt">0</text><rect x="291.5" y="235.9" width="16" height="12.8" class="lb"/><text x="296.72" y="246.20" class="lt">3</text><path d="M2.55,-7.16 L4.0,-7.16 L4.0,0 L2.55,0 L2.55,-5.15 Q1.75,-4.45 0.75,-4.15 L0.75,-5.45 Q2.0,-5.95 2.55,-7.16 Z" transform="translate(299.50,246.20)" fill="#1e1e1e" stroke="#1e1e1e" stroke-width="0.2"/><rect x="203.0" y="242.1" width="16" height="12.8" class="lb"/><text x="208.22" y="252.40" class="lt">3</text><text x="213.78" y="252.40" class="lt">6</text><rect x="222.5" y="261.1" width="16" height="12.8" class="lb"/><text x="227.72" y="271.40" class="lt">3</text><text x="233.28" y="271.40" class="lt">2</text><rect x="229.0" y="284.6" width="16" height="12.8" class="lb"/><text x="234.22" y="294.90" class="lt">2</text><text x="239.78" y="294.90" class="lt">9</text><rect x="243.5" y="291.1" width="16" height="12.8" class="lb"/><text x="248.72" y="301.40" class="lt">3</text><path d="M2.55,-7.16 L4.0,-7.16 L4.0,0 L2.55,0 L2.55,-5.15 Q1.75,-4.45 0.75,-4.15 L0.75,-5.45 Q2.0,-5.95 2.55,-7.16 Z" transform="translate(251.50,301.40)" fill="#1e1e1e" stroke="#1e1e1e" stroke-width="0.2"/><rect x="279.0" y="301.1" width="16" height="12.8" class="lb"/><text x="284.22" y="311.40" class="lt">3</text><text x="289.78" y="311.40" class="lt">3</text><rect x="135.5" y="258.9" width="11.3" height="12.8" class="lb"/><path d="M2.55,-7.16 L4.0,-7.16 L4.0,0 L2.55,0 L2.55,-5.15 Q1.75,-4.45 0.75,-4.15 L0.75,-5.45 Q2.0,-5.95 2.55,-7.16 Z" transform="translate(138.42,269.20)" fill="#1e1e1e" stroke="#1e1e1e" stroke-width="0.2"/><rect x="202.3" y="347.6" width="11.3" height="12.8" class="lb"/><text x="208.00" y="357.90" class="lt">2</text><rect x="182.4" y="372.8" width="16" height="12.8" class="lb"/><path d="M2.55,-7.16 L4.0,-7.16 L4.0,0 L2.55,0 L2.55,-5.15 Q1.75,-4.45 0.75,-4.15 L0.75,-5.45 Q2.0,-5.95 2.55,-7.16 Z" transform="translate(184.84,383.10)" fill="#1e1e1e" stroke="#1e1e1e" stroke-width="0.2"/><path d="M2.55,-7.16 L4.0,-7.16 L4.0,0 L2.55,0 L2.55,-5.15 Q1.75,-4.45 0.75,-4.15 L0.75,-5.45 Q2.0,-5.95 2.55,-7.16 Z" transform="translate(190.40,383.10)" fill="#1e1e1e" stroke="#1e1e1e" stroke-width="0.2"/><rect x="269.5" y="336.6" width="16" height="12.8" class="lb"/><text x="274.72" y="346.90" class="lt">2</text><text x="280.28" y="346.90" class="lt">8</text><rect x="297.5" y="371.3" width="16" height="12.8" class="lb"/><text x="302.72" y="381.60" class="lt">2</text><text x="308.28" y="381.60" class="lt">6</text><rect x="211.6" y="430.9" width="16" height="12.8" class="lb"/><path d="M2.55,-7.16 L4.0,-7.16 L4.0,0 L2.55,0 L2.55,-5.15 Q1.75,-4.45 0.75,-4.15 L0.75,-5.45 Q2.0,-5.95 2.55,-7.16 Z" transform="translate(214.04,441.20)" fill="#1e1e1e" stroke="#1e1e1e" stroke-width="0.2"/><text x="222.38" y="441.20" class="lt">2</text><rect x="415.5" y="233.6" width="16" height="12.8" class="lb"/><text x="420.72" y="243.90" class="lt">2</text><text x="426.28" y="243.90" class="lt">2</text><rect x="465.1" y="197.9" width="16" height="12.8" class="lb"/><text x="470.32" y="208.20" class="lt">2</text><text x="475.88" y="208.20" class="lt">2</text><rect x="415.0" y="256.1" width="16" height="12.8" class="lb"/><text x="420.22" y="266.40" class="lt">2</text><text x="425.78" y="266.40" class="lt">3</text><rect x="432.5" y="283.6" width="16" height="12.8" class="lb"/><text x="437.72" y="293.90" class="lt">2</text><path d="M2.55,-7.16 L4.0,-7.16 L4.0,0 L2.55,0 L2.55,-5.15 Q1.75,-4.45 0.75,-4.15 L0.75,-5.45 Q2.0,-5.95 2.55,-7.16 Z" transform="translate(440.50,293.90)" fill="#1e1e1e" stroke="#1e1e1e" stroke-width="0.2"/><rect x="434.5" y="322.1" width="16" height="12.8" class="lb"/><text x="439.72" y="332.40" class="lt">2</text><text x="445.28" y="332.40" class="lt">7</text><rect x="414.6" y="335.6" width="16" height="12.8" class="lb"/><text x="419.82" y="345.90" class="lt">2</text><text x="425.38" y="345.90" class="lt">5</text><rect x="464.5" y="274.0" width="16" height="12.8" class="lb"/><text x="469.72" y="284.30" class="lt">5</text><path d="M2.55,-7.16 L4.0,-7.16 L4.0,0 L2.55,0 L2.55,-5.15 Q1.75,-4.45 0.75,-4.15 L0.75,-5.45 Q2.0,-5.95 2.55,-7.16 Z" transform="translate(472.50,284.30)" fill="#1e1e1e" stroke="#1e1e1e" stroke-width="0.2"/><rect x="508.1" y="267.6" width="16" height="12.8" class="lb"/><text x="513.32" y="277.90" class="lt">5</text><text x="518.88" y="277.90" class="lt">2</text><rect x="525.0" y="308.6" width="16" height="12.8" class="lb"/><text x="530.22" y="318.90" class="lt">2</text><text x="535.78" y="318.90" class="lt">4</text><rect x="507.2" y="323.4" width="16" height="12.8" class="lb"/><text x="512.42" y="333.70" class="lt">2</text><text x="517.98" y="333.70" class="lt">5</text><rect x="564.2" y="199.8" width="16" height="12.8" class="lb"/><text x="569.42" y="210.10" class="lt">2</text><text x="574.98" y="210.10" class="lt">0</text><rect x="708.4" y="203.7" width="11.3" height="12.8" class="lb"/><text x="714.00" y="214.00" class="lt">7</text><rect x="723.4" y="213.8" width="11.3" height="12.8" class="lb"/><text x="729.00" y="224.10" class="lt">6</text><rect x="584.8" y="292.1" width="16" height="12.8" class="lb"/><text x="590.02" y="302.40" class="lt">2</text><text x="595.58" y="302.40" class="lt">2</text><rect x="577.3" y="315.0" width="16" height="12.8" class="lb"/><text x="582.52" y="325.30" class="lt">5</text><text x="588.08" y="325.30" class="lt">2</text><rect x="685.2" y="328.4" width="11.3" height="12.8" class="lb"/><text x="690.90" y="338.70" class="lt">5</text><rect x="587.5" y="354.6" width="16" height="12.8" class="lb"/><text x="592.72" y="364.90" class="lt">5</text><path d="M2.55,-7.16 L4.0,-7.16 L4.0,0 L2.55,0 L2.55,-5.15 Q1.75,-4.45 0.75,-4.15 L0.75,-5.45 Q2.0,-5.95 2.55,-7.16 Z" transform="translate(595.50,364.90)" fill="#1e1e1e" stroke="#1e1e1e" stroke-width="0.2"/><rect x="623.7" y="375.5" width="16" height="12.8" class="lb"/><text x="628.92" y="385.80" class="lt">2</text><text x="634.48" y="385.80" class="lt">4</text><rect x="587.5" y="385.0" width="16" height="12.8" class="lb"/><text x="592.72" y="395.30" class="lt">2</text><text x="598.28" y="395.30" class="lt">5</text><rect x="537.2" y="385.0" width="11.3" height="12.8" class="lb"/><text x="542.90" y="395.30" class="lt">8</text><rect x="545.4" y="421.2" width="11.3" height="12.8" class="lb"/><text x="551.00" y="431.50" class="lt">9</text><rect x="537.9" y="476.1" width="11.3" height="12.8" class="lb"/><text x="543.50" y="486.40" class="lt">4</text><rect x="531.4" y="505.6" width="11.3" height="12.8" class="lb"/><text x="537.00" y="515.90" class="lt">3</text><rect x="417.4" y="369.7" width="16" height="12.8" class="lb"/><path d="M2.55,-7.16 L4.0,-7.16 L4.0,0 L2.55,0 L2.55,-5.15 Q1.75,-4.45 0.75,-4.15 L0.75,-5.45 Q2.0,-5.95 2.55,-7.16 Z" transform="translate(419.84,380.00)" fill="#1e1e1e" stroke="#1e1e1e" stroke-width="0.2"/><text x="428.18" y="380.00" class="lt">0</text><rect x="394.8" y="396.8" width="11.3" height="12.8" class="lb"/><text x="400.40" y="407.10" class="lt">9</text><rect x="334.0" y="383.6" width="16" height="12.8" class="lb"/><text x="339.22" y="393.90" class="lt">3</text><text x="344.78" y="393.90" class="lt">8</text><rect x="329.5" y="361.1" width="16" height="12.8" class="lb"/><text x="334.72" y="371.40" class="lt">2</text><text x="340.28" y="371.40" class="lt">7</text><rect x="277.4" y="424.7" width="16" height="12.8" class="lb"/><path d="M2.55,-7.16 L4.0,-7.16 L4.0,0 L2.55,0 L2.55,-5.15 Q1.75,-4.45 0.75,-4.15 L0.75,-5.45 Q2.0,-5.95 2.55,-7.16 Z" transform="translate(279.84,435.00)" fill="#1e1e1e" stroke="#1e1e1e" stroke-width="0.2"/><text x="288.18" y="435.00" class="lt">5</text><rect x="277.4" y="437.9" width="16" height="12.8" class="lb"/><path d="M2.55,-7.16 L4.0,-7.16 L4.0,0 L2.55,0 L2.55,-5.15 Q1.75,-4.45 0.75,-4.15 L0.75,-5.45 Q2.0,-5.95 2.55,-7.16 Z" transform="translate(279.84,448.20)" fill="#1e1e1e" stroke="#1e1e1e" stroke-width="0.2"/><text x="288.18" y="448.20" class="lt">3</text><rect x="286.6" y="471.1" width="16" height="12.8" class="lb"/><path d="M2.55,-7.16 L4.0,-7.16 L4.0,0 L2.55,0 L2.55,-5.15 Q1.75,-4.45 0.75,-4.15 L0.75,-5.45 Q2.0,-5.95 2.55,-7.16 Z" transform="translate(289.04,481.40)" fill="#1e1e1e" stroke="#1e1e1e" stroke-width="0.2"/><text x="297.38" y="481.40" class="lt">4</text><rect x="328.9" y="187.5" width="16" height="12.8" fill="#f6e2a4" stroke="#efd793" stroke-width="1"/><text x="334.12" y="197.80" class="ht">3</text><text x="339.68" y="197.80" class="ht">4</text></g>
</svg>
</body></html>
